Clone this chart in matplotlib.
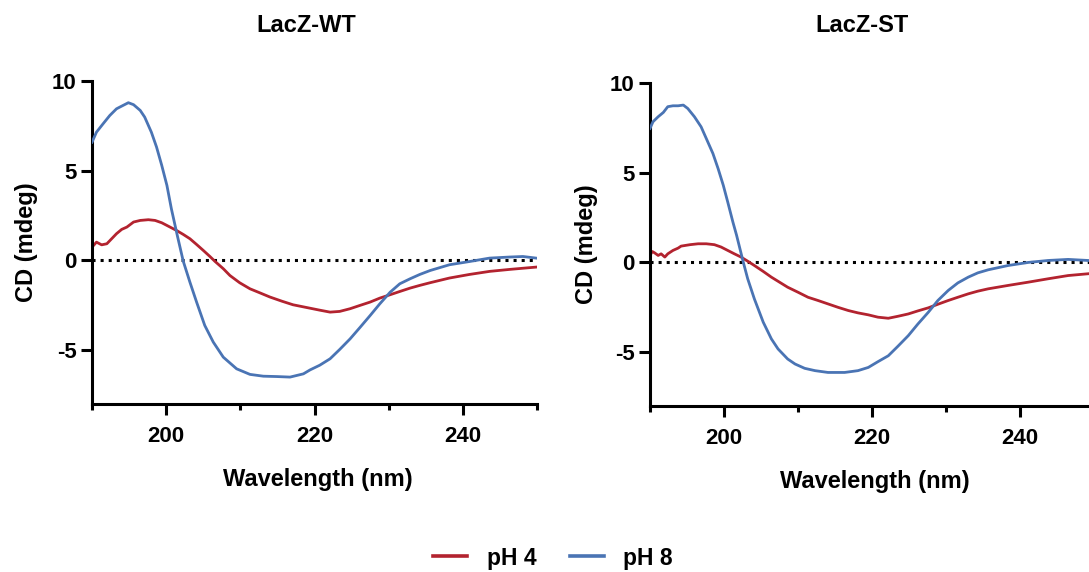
import numpy as np
import matplotlib
matplotlib.use('Agg')
from matplotlib import pyplot as plt
from matplotlib.ticker import MultipleLocator

# values (wavelength nm, CD mdeg)
wt_ph8_x = [190.0, 190.6, 191.5, 192.4, 193.3, 194.0, 194.9, 195.6, 196.5, 197.1, 198.0, 198.7, 199.4,
			200.1, 200.7, 201.5, 202.3, 203.2, 204.1, 205.2, 206.35, 207.7, 209.5, 211.3, 213.1, 214.9,
			216.7, 218.5, 219.4, 220.7, 222.1, 223.4, 224.8, 226.1, 227.5, 228.8, 230.2, 231.5, 232.9,
			234.2, 235.6, 238.2, 240.9, 243.6, 246.3, 248.1, 249.9]
wt_ph8_y = [6.59, 7.15, 7.62, 8.08, 8.45, 8.6, 8.79, 8.68, 8.36, 7.99, 7.15, 6.32, 5.3,
			4.18, 2.88, 1.39, -0.04, -1.21, -2.32, -3.62, -4.55, -5.39, -6.04, -6.35, -6.45, -6.47,
			-6.5, -6.32, -6.1, -5.84, -5.48, -4.96, -4.37, -3.75, -3.07, -2.42, -1.77, -1.3, -1.02,
			-0.78, -0.56, -0.24, -0.06, 0.13, 0.19, 0.22, 0.13]
wt_ph4_x = [190.0, 190.6, 191.3, 192.0, 192.65, 193.3, 194.0, 194.7, 195.6, 196.5, 197.6, 198.5, 199.4,
			200.1, 201.4, 202.3, 203.2, 204.1, 205.0, 205.9, 206.6, 207.7, 208.6, 209.9, 211.3, 212.6,
			214.0, 215.6, 217.1, 218.9, 220.7, 222.1, 223.4, 224.8, 226.1, 227.5, 228.8, 230.2, 231.5,
			232.9, 234.2, 235.6, 238.2, 240.9, 243.6, 246.3, 249.9]
wt_ph4_y = [0.74, 1.02, 0.87, 0.93, 1.21, 1.49, 1.73, 1.86, 2.14, 2.23, 2.27, 2.23, 2.1,
			1.95, 1.67, 1.45, 1.21, 0.89, 0.56, 0.22, -0.06, -0.46, -0.84, -1.24, -1.58, -1.8,
			-2.04, -2.27, -2.47, -2.62, -2.77, -2.88, -2.84, -2.69, -2.51, -2.32, -2.1, -1.91, -1.73,
			-1.54, -1.39, -1.24, -0.98, -0.78, -0.61, -0.5, -0.37]

st_ph8_x = [190.0, 190.4, 191.1, 191.8, 192.4, 193.1, 193.8, 194.5, 195.1, 196.0, 196.9, 197.6, 198.5,
			199.2, 199.9, 200.5, 201.2, 201.7, 202.6, 203.2, 204.1, 205.3, 206.4, 207.3, 208.6, 209.6,
			210.9, 212.3, 214.05, 216.3, 218.1, 219.5, 220.8, 222.2, 223.5, 224.9, 226.2, 227.6, 228.9,
			230.3, 231.6, 233.0, 234.3, 235.7, 238.4, 241.1, 243.8, 246.5, 249.2, 250.0]
st_ph8_y = [7.47, 7.84, 8.12, 8.36, 8.68, 8.73, 8.73, 8.77, 8.58, 8.12, 7.56, 6.91, 6.07,
			5.23, 4.3, 3.37, 2.25, 1.51, 0.02, -0.91, -2.03, -3.33, -4.26, -4.82, -5.38, -5.66,
			-5.9, -6.03, -6.13, -6.13, -6.03, -5.85, -5.53, -5.2, -4.67, -4.08, -3.43, -2.78, -2.12,
			-1.56, -1.14, -0.82, -0.58, -0.41, -0.17, 0.0, 0.11, 0.17, 0.11, 0.1]
st_ph4_x = [190.0, 190.3, 190.6, 191.1, 191.5, 192.0, 192.4, 193.1, 193.8, 194.2, 195.4, 196.5, 197.6,
			198.7, 199.6, 200.5, 201.4, 202.3, 203.2, 204.1, 205.3, 206.4, 207.5, 208.6, 210.0, 211.35,
			212.7, 214.05, 215.4, 216.8, 218.1, 219.5, 220.8, 222.2, 223.5, 224.9, 226.2, 227.6, 228.9,
			230.3, 231.6, 233.0, 234.3, 235.7, 238.4, 241.1, 243.8, 246.5, 249.2, 250.0]
st_ph4_y = [0.39, 0.61, 0.54, 0.39, 0.48, 0.3, 0.48, 0.67, 0.8, 0.91, 0.99, 1.04, 1.04,
			0.99, 0.86, 0.67, 0.48, 0.3, 0.07, -0.17, -0.5, -0.82, -1.1, -1.38, -1.66, -1.94,
			-2.12, -2.31, -2.5, -2.68, -2.81, -2.92, -3.05, -3.11, -3.0, -2.87, -2.7, -2.53, -2.33,
			-2.12, -1.94, -1.75, -1.6, -1.47, -1.28, -1.1, -0.91, -0.73, -0.63, -0.6]

titles = ['LacZ-WT', 'LacZ-ST']
series_labels = ['pH 4', 'pH 8']
red = '#b3232f'
blue = '#4a74b4'

plt.rcParams['font.family'] = ['Liberation Sans', 'DejaVu Sans']
plt.rcParams['font.weight'] = 'bold'
plt.rcParams['axes.unicode_minus'] = False

def style_axes(ax, ylab_x):
	ax.set_xlim(190, 250)
	ax.set_ylim(-8, 10)
	ax.spines['top'].set_visible(False)
	ax.spines['right'].set_visible(False)
	for s in ['left', 'bottom']:
		ax.spines[s].set_linewidth(2.2)
	ax.xaxis.set_minor_locator(MultipleLocator(10))
	ax.set_xticks([200, 220, 240])
	ax.set_yticks([-5, 0, 5, 10])
	ax.tick_params(axis='both', which='major', length=8, width=2.2, labelsize=16)
	ax.tick_params(axis='x', which='major', pad=8)
	ax.tick_params(axis='y', which='major', pad=3)
	ax.tick_params(axis='x', which='minor', length=4.5, width=2.2)
	ax.set_xlabel('Wavelength (nm)', fontsize=17, fontweight='bold')
	ax.set_ylabel('CD (mdeg)', fontsize=17, fontweight='bold')
	ax.xaxis.set_label_coords(0.507, -0.198)
	ax.yaxis.set_label_coords(ylab_x, 0.5)

def main():
	fig = plt.figure(figsize=(10.89, 5.72), dpi=100)
	ax1 = fig.add_axes([0.0845, 0.2937, 0.4086, 0.5647])
	ax2 = fig.add_axes([0.5969, 0.2902, 0.4077, 0.5647])

	data = [(wt_ph4_x, wt_ph4_y, wt_ph8_x, wt_ph8_y), (st_ph4_x, st_ph4_y, st_ph8_x, st_ph8_y)]
	for ax, (x4, y4, x8, y8), ylx in zip([ax1, ax2], data, [-0.121, -0.117]):
		ax.plot([190, 250], [0, 0], color='black', linestyle=':', linewidth=2.2, zorder=1)
		l4, = ax.plot(x4, y4, color=red, linewidth=2.0, zorder=2)
		l8, = ax.plot(x8, y8, color=blue, linewidth=2.0, zorder=3)
		style_axes(ax, ylx)

	fig.text(306 / 1089, 1 - 25 / 572, titles[0], ha='center', va='center', fontsize=17, fontweight='bold')
	fig.text(862 / 1089, 1 - 25 / 572, titles[1], ha='center', va='center', fontsize=17, fontweight='bold')

	leg = fig.legend([l4, l8], series_labels, loc='center', bbox_to_anchor=(553 / 1089, 1 - 558 / 572),
					 ncol=2, frameon=False, fontsize=16.5, handlelength=1.5, handletextpad=0.85,
					 columnspacing=1.45)
	for h in leg.get_lines():
		h.set_linewidth(2.6)

	fig.savefig('out.png', dpi=100)

if __name__ == '__main__':
	main()
